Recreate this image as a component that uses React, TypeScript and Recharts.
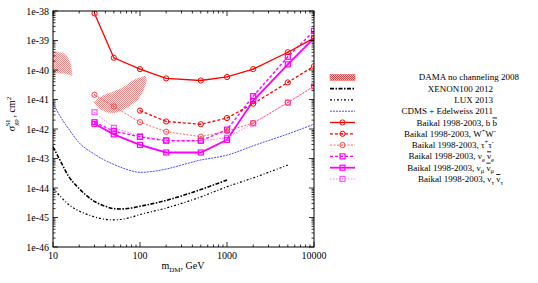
import React from "react";
import { ComposedChart, Line, Area, XAxis, YAxis } from "recharts";

// Baikal limits, m_DM in GeV, sigma in cm^2
const baikalMass = [30, 50, 100, 200, 500, 1000, 2000, 5000, 10000];
const bbbar = [8.3e-39, 2.6e-40, 1.07e-40, 5.2e-41, 4.4e-41, 5.8e-41, 1.07e-40, 4.0e-40, 1.2e-39];
const wwMass = [100, 200, 500, 1000, 2000, 5000, 10000];
const ww = [4.2e-42, 1.8e-42, 1.45e-42, 2.35e-42, 7.2e-42, 3.8e-41, 1.35e-40];
const tautau = [1.45e-41, 5.8e-42, 1.7e-42, 8.1e-43, 5.5e-43, 8.5e-43, 1.6e-42, 7.9e-42, 2.8e-41];
const nue = [1.7e-42, 8.5e-43, 5.4e-43, 4.0e-43, 4.0e-43, 9.5e-43, 1.3e-41, 2.8e-40, 2.1e-39];
const numu = [1.5e-42, 6.6e-43, 2.9e-43, 1.6e-43, 1.6e-43, 4.3e-43, 9.1e-42, 1.55e-40, 1.2e-39];
const nutau = [3.7e-42, 1.1e-42, 5.6e-43, 4.2e-43, 4.0e-43, 5.0e-43, 1.55e-42, 7.8e-42, 2.8e-41];

// direct detection curves
const cdmsMass = [10, 12, 15, 20, 30, 40, 50, 70, 100, 200, 300, 500, 700, 1000, 2000, 5000, 10000];
const cdms = [7.6e-42, 2.8e-42, 1.05e-42, 3.4e-43, 1.4e-43, 8.5e-44, 6.3e-44, 4.3e-44, 3.4e-44, 4.4e-44, 6.0e-44, 8.9e-44, 1.05e-43, 1.3e-43, 2.7e-43, 6.8e-43, 1.45e-42];
const xenonMass = [10, 12, 15, 20, 30, 40, 50, 60, 80, 100, 200, 300, 500, 1000];
const xenon = [2.5e-43, 8.9e-44, 2.6e-44, 9.5e-45, 3.5e-45, 2.4e-45, 2.0e-45, 1.95e-45, 2.1e-45, 2.4e-45, 3.8e-45, 5.4e-45, 8.9e-45, 1.86e-44];
const luxMass = [10, 12, 15, 20, 30, 40, 50, 70, 100, 200, 500, 1000, 2000, 5000];
const lux = [9.8e-45, 5.4e-45, 2.8e-45, 1.66e-45, 1.05e-45, 8.7e-46, 8.3e-46, 9.3e-46, 1.26e-45, 2.1e-45, 5.0e-45, 1.1e-44, 2.2e-44, 6.0e-44];

// DAMA regions (lower / upper edge)
const dama1Mass = [10, 13, 15, 16, 16.8];
const dama1Low = [8.3e-41, 7.6e-41, 7.1e-41, 6.5e-41, 6.3e-41];
const dama1High = [4.2e-40, 3.7e-40, 2.5e-40, 1.5e-40, 6.3e-41];
const dama2Mass = [29, 35, 49, 64, 84, 100, 114, 120];
const dama2Low = [8.3e-42, 4.6e-42, 3.5e-42, 4.4e-42, 7.4e-42, 1.25e-41, 2.7e-41, 4.6e-41];
const dama2High = [8.3e-42, 1.25e-41, 1.85e-41, 2.6e-41, 4.6e-41, 5.6e-41, 6.3e-41, 4.6e-41];

const xDecades = [10, 100, 1000];
const yExps = [-46, -45, -44, -43, -42, -41, -40, -39];

const PLOT = { left: 53, right: 314, top: 11, bottom: 247 };
const FONT = "'Liberation Serif', 'Times New Roman', serif";

const xTicks = [...xDecades.flatMap((d) => [1, 2, 3, 4, 5, 6, 7, 8, 9].map((k) => k * d)), 10000];
const yTicks = [
  ...yExps.flatMap((e) => [1, 2, 3, 4, 5, 6, 7, 8, 9].map((k) => Number((k * Math.pow(10, e)).toPrecision(3)))),
  1e-38,
];

const pts = (ms: number[], vs: number[]) => ms.map((m, i) => ({ m, s: vs[i] }));
const band = (ms: number[], lo: number[], hi: number[]) => ms.map((m, i) => ({ m, lo: lo[i], hi: hi[i] }));

const isMajor = (v: number) => Math.abs(Math.log10(v) - Math.round(Math.log10(v))) < 1e-6;

const YTick = (props: any) => {
  const { y, payload } = props;
  const major = isMajor(payload.value);
  const len = major ? 5 : 2.5;
  return (
    <g>
      <line x1={PLOT.left} x2={PLOT.left + len} y1={y} y2={y} stroke="#000" strokeWidth={0.8} />
      <line x1={PLOT.right} x2={PLOT.right - len} y1={y} y2={y} stroke="#000" strokeWidth={0.8} />
      {major && (
        <text x={PLOT.left - 4} y={y} dy={3.5} textAnchor="end" fontSize={10} fontFamily={FONT} fill="#000">
          {`1e${Math.round(Math.log10(payload.value))}`}
        </text>
      )}
    </g>
  );
};

const XTick = (props: any) => {
  const { x, payload } = props;
  const major = isMajor(payload.value);
  const len = major ? 5 : 2.5;
  return (
    <g>
      <line x1={x} x2={x} y1={PLOT.bottom} y2={PLOT.bottom - len} stroke="#000" strokeWidth={0.8} />
      <line x1={x} x2={x} y1={PLOT.top} y2={PLOT.top + len} stroke="#000" strokeWidth={0.8} />
      {major && (
        <text x={x} y={PLOT.bottom + 12} textAnchor="middle" fontSize={10} fontFamily={FONT} fill="#000">
          {payload.value}
        </text>
      )}
    </g>
  );
};

const ring = (color: string) => (p: any) => (
  <g key={`r${p.index}`}>
    <circle cx={p.cx} cy={p.cy} r={2.6} fill="none" stroke={color} strokeWidth={1} />
    <circle cx={p.cx} cy={p.cy} r={0.7} fill={color} />
  </g>
);
const box = (color: string, size: number) => (p: any) => (
  <g key={`b${p.index}`}>
    <rect x={p.cx - size / 2} y={p.cy - size / 2} width={size} height={size} fill="none" stroke={color} strokeWidth={1.2} />
    <circle cx={p.cx} cy={p.cy} r={0.6} fill={color} />
  </g>
);

const legendRows = [
  { kind: "dama", end: 519, text: <>DAMA no channeling 2008</> },
  { kind: "line", color: "#000", width: 1.6, dash: "4 1.5 1.5 1.5", end: 493, text: <>XENON100 2012</> },
  { kind: "line", color: "#000", width: 1.2, dash: "2 2 1 2", end: 493, text: <>LUX 2013</> },
  { kind: "line", color: "#4848ff", width: 1, dash: "2 1", end: 493, text: <>CDMS + Edelweiss 2011</> },
  {
    kind: "ring", color: "#ff0000", width: 1.3, dash: "", end: 497,
    text: <>Baikal 1998-2003, b  <tspan style={{ textDecoration: "overline" }}>b</tspan></>,
  },
  {
    kind: "ring", color: "#ff0000", width: 1.3, dash: "3 2", end: 496,
    text: <>Baikal 1998-2003, W<tspan dy={-4} fontSize={6.5}>+</tspan><tspan dy={4}>W</tspan><tspan dy={-4} fontSize={6.5}>-</tspan></>,
  },
  {
    kind: "ring", color: "#ff4040", width: 0.8, dash: "2 1.5", end: 494,
    text: <>Baikal 1998-2003, τ<tspan dy={-4} fontSize={6.5}>+</tspan><tspan dy={4}>τ</tspan><tspan dy={-4} fontSize={6.5}>-</tspan></>,
  },
  {
    kind: "box", color: "#ff00ff", width: 1.3, dash: "3 2", end: 494,
    text: <>Baikal 1998-2003, ν<tspan dy={2.5} fontSize={6.5}>e</tspan><tspan dy={-2.5}>  </tspan><tspan style={{ textDecoration: "overline" }}>ν</tspan><tspan dy={2.5} fontSize={6.5}>e</tspan></>,
  },
  {
    kind: "box", color: "#ff00ff", width: 1.8, dash: "", end: 494,
    text: <>Baikal 1998-2003, ν<tspan dy={2.5} fontSize={6.5}>μ</tspan><tspan dy={-2.5}>  </tspan><tspan style={{ textDecoration: "overline" }}>ν</tspan><tspan dy={2.5} fontSize={6.5}>μ</tspan></>,
  },
  {
    kind: "box", color: "#ff55ff", width: 0.8, dash: "1.5 1.5", end: 503,
    text: <>Baikal 1998-2003, ν<tspan dy={2.5} fontSize={6.5}>τ</tspan><tspan dy={-2.5}>  </tspan><tspan style={{ textDecoration: "overline" }}>ν</tspan><tspan dy={2.5} fontSize={6.5}>τ</tspan></>,
  },
];

function Overlay() {
  const x0 = 330, x1 = 355, xm = 342.5;
  return (
    <svg width={538} height={283} style={{ position: "absolute", left: 0, top: 0, pointerEvents: "none" }}>
      <defs>
        <pattern id="dama" width="2" height="2" patternUnits="userSpaceOnUse">
          <rect width="2" height="2" fill="#fcdede" />
          <rect width="1" height="1" fill="#ee3a3a" />
          <rect x="1" y="1" width="1" height="1" fill="#ee3a3a" />
        </pattern>
      </defs>
      <rect x={PLOT.left} y={PLOT.top} width={PLOT.right - PLOT.left} height={PLOT.bottom - PLOT.top} fill="none" stroke="#000" strokeWidth={1} />
      <text transform="translate(15,114) rotate(-90)" textAnchor="middle" fontSize={10} fontFamily={FONT} fill="#000">
        σ<tspan dy={3} fontSize={7}>χp</tspan>
        <tspan dx={-7} dy={-8} fontSize={7}>SI</tspan>
        <tspan dy={5}> , cm</tspan>
        <tspan dy={-4} fontSize={7}>2</tspan>
      </text>
      <text x={183} y={269} textAnchor="middle" fontSize={10} fontFamily={FONT} fill="#000">
        m<tspan dy={2.5} fontSize={7}>DM</tspan>
        <tspan dy={-2.5}>, GeV</tspan>
      </text>
      {legendRows.map((r: any, i) => {
        const y = 77.3 + i * 11.3;
        return (
          <g key={i}>
            {r.kind === "dama" ? (
              <rect x={x0} y={y - 3} width={x1 - x0} height={6} fill="url(#dama)" stroke="#f06060" strokeWidth={0.6} />
            ) : (
              <line x1={x0} x2={x1} y1={y} y2={y} stroke={r.color} strokeWidth={r.width} strokeDasharray={r.dash || undefined} />
            )}
            {r.kind === "ring" && ring(r.color)({ cx: xm, cy: y, index: i })}
            {r.kind === "box" && box(r.color, 5)({ cx: xm, cy: y, index: i })}
            <text x={r.end} y={y + 3} textAnchor="end" fontSize={9} fontFamily={FONT} fill="#000">
              {r.text}
            </text>
          </g>
        );
      })}
    </svg>
  );
}

export default function App() {
  const rangeKey = (d: any) => [d.lo, d.hi];
  return (
    <div style={{ position: "absolute", left: 0, top: 0, width: 538, height: 283, background: "#fff" }}>
      <ComposedChart width={538} height={283} margin={{ top: 11, right: 224, bottom: 0, left: 0 }}>
        <XAxis
          type="number"
          dataKey="m"
          scale="log"
          domain={[10, 10000]}
          ticks={xTicks}
          interval={0}
          allowDataOverflow
          axisLine={false}
          tickLine={false}
          height={36}
          tick={<XTick />}
        />
        <YAxis
          type="number"
          scale="log"
          domain={[1e-46, 1e-38]}
          ticks={yTicks}
          interval={0}
          allowDataOverflow
          axisLine={false}
          tickLine={false}
          width={53}
          tick={<YTick />}
        />
        <Area data={band(dama1Mass, dama1Low, dama1High)} dataKey={rangeKey} type="monotone" stroke="none" fill="url(#dama)" isAnimationActive={false} />
        <Area data={band(dama2Mass, dama2Low, dama2High)} dataKey={rangeKey} type="monotone" stroke="none" fill="url(#dama)" isAnimationActive={false} />
        <Line data={pts(cdmsMass, cdms)} dataKey="s" type="monotone" stroke="#4848ff" strokeWidth={1} strokeDasharray="2 1" dot={false} activeDot={false} isAnimationActive={false} />
        <Line data={pts(xenonMass, xenon)} dataKey="s" type="monotone" stroke="#000" strokeWidth={1.6} strokeDasharray="4 1.5 1.5 1.5" dot={false} activeDot={false} isAnimationActive={false} />
        <Line data={pts(luxMass, lux)} dataKey="s" type="monotone" stroke="#000" strokeWidth={1.2} strokeDasharray="2 2 1 2" dot={false} activeDot={false} isAnimationActive={false} />
        <Line data={pts(baikalMass, nutau)} dataKey="s" type="linear" stroke="#ff55ff" strokeWidth={0.8} strokeDasharray="1.5 1.5" dot={box("#ff55ff", 5)} activeDot={false} isAnimationActive={false} />
        <Line data={pts(baikalMass, nue)} dataKey="s" type="linear" stroke="#ff00ff" strokeWidth={1.3} strokeDasharray="3 2" dot={box("#ff00ff", 5)} activeDot={false} isAnimationActive={false} />
        <Line data={pts(baikalMass, numu)} dataKey="s" type="linear" stroke="#ff00ff" strokeWidth={1.8} dot={box("#ff00ff", 5)} activeDot={false} isAnimationActive={false} />
        <Line data={pts(baikalMass, tautau)} dataKey="s" type="linear" stroke="#ff4040" strokeWidth={0.8} strokeDasharray="2 1.5" dot={ring("#ff4040")} activeDot={false} isAnimationActive={false} />
        <Line data={pts(wwMass, ww)} dataKey="s" type="linear" stroke="#ff0000" strokeWidth={1.3} strokeDasharray="3 2" dot={ring("#ff0000")} activeDot={false} isAnimationActive={false} />
        <Line data={pts(baikalMass, bbbar)} dataKey="s" type="linear" stroke="#ff0000" strokeWidth={1.3} dot={ring("#ff0000")} activeDot={false} isAnimationActive={false} />
      </ComposedChart>
      <Overlay />
    </div>
  );
}
